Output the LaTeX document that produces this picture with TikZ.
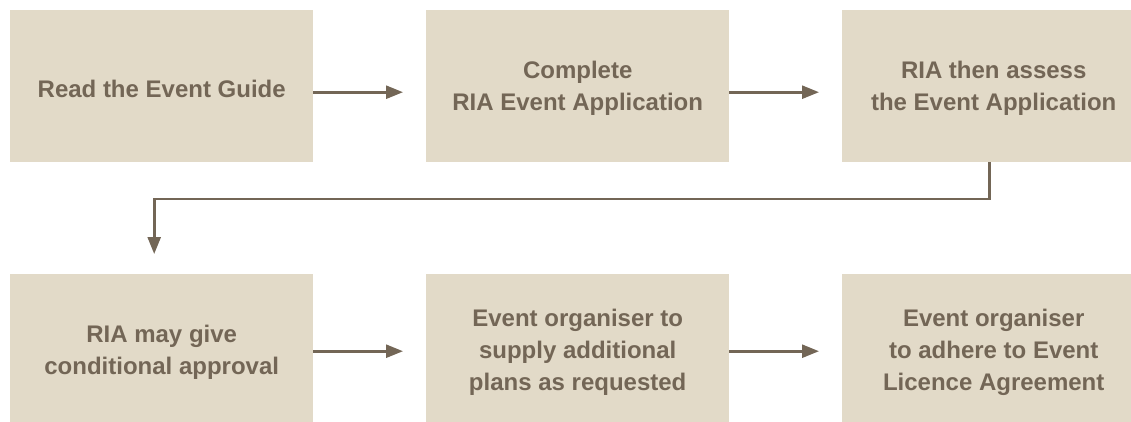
\documentclass[tikz,border=0pt]{standalone}
\usepackage{fontspec}
\setmainfont{Liberation Sans}
\usetikzlibrary{arrows.meta,calc}
\definecolor{boxfill}{HTML}{E2DAC8}
\definecolor{ink}{HTML}{736656}
\tikzset{
  stepbox/.style={rectangle, fill=boxfill, draw=none, minimum width=303pt, minimum height=152pt,
    inner sep=0pt, anchor=north west},
  steptext/.style={align=center, text=ink, inner sep=0pt, yshift=-2.5pt,
    font=\fontsize{24}{32}\selectfont\bfseries},
  arr/.style={draw=ink, line width=2.6pt, -{Triangle[length=17pt,width=13pt]}}
}
\begin{document}
\begin{tikzpicture}[x=1pt,y=-1pt]
\useasboundingbox (0,0) rectangle (1131,421);
\begin{scope}
\clip (0,0) rectangle (1131,421);
\node[stepbox, label={[steptext]center:Read the Event Guide}] (b1) at (10,10) {};
\node[stepbox, label={[steptext]center:Complete\\RIA Event Application}] (b2) at (426,10) {};
\node[stepbox, label={[steptext]center:RIA then assess\\the Event Application}] (b3) at (842,10) {};
\node[stepbox, label={[steptext]center:RIA may give\\conditional approval}] (b4) at (10,274) {};
\node[stepbox, label={[steptext]center:Event organiser to\\supply additional\\plans as requested}] (b5) at (426,274) {};
\node[stepbox, label={[steptext]center:Event organiser\\to adhere to Event\\Licence Agreement}] (b6) at (842,274) {};
\draw[arr] ([yshift=-6pt]b1.east) -- ([xshift=-23pt,yshift=-6pt]b2.west);
\draw[arr] ([yshift=-6pt]b2.east) -- ([xshift=-23pt,yshift=-6pt]b3.west);
\draw[arr] ([yshift=-1pt]b4.east) -- ([xshift=-23pt,yshift=-1pt]b5.west);
\draw[arr] ([yshift=-1pt]b5.east) -- ([xshift=-23pt,yshift=-1pt]b6.west);
\coordinate (bend) at (0,199);
\draw[arr] ([xshift=-4.5pt]b3.south) |- ([xshift=-7.5pt]b4.north |- bend) -- ([xshift=-7.5pt,yshift=20pt]b4.north);
\end{scope}
\end{tikzpicture}
\end{document}
